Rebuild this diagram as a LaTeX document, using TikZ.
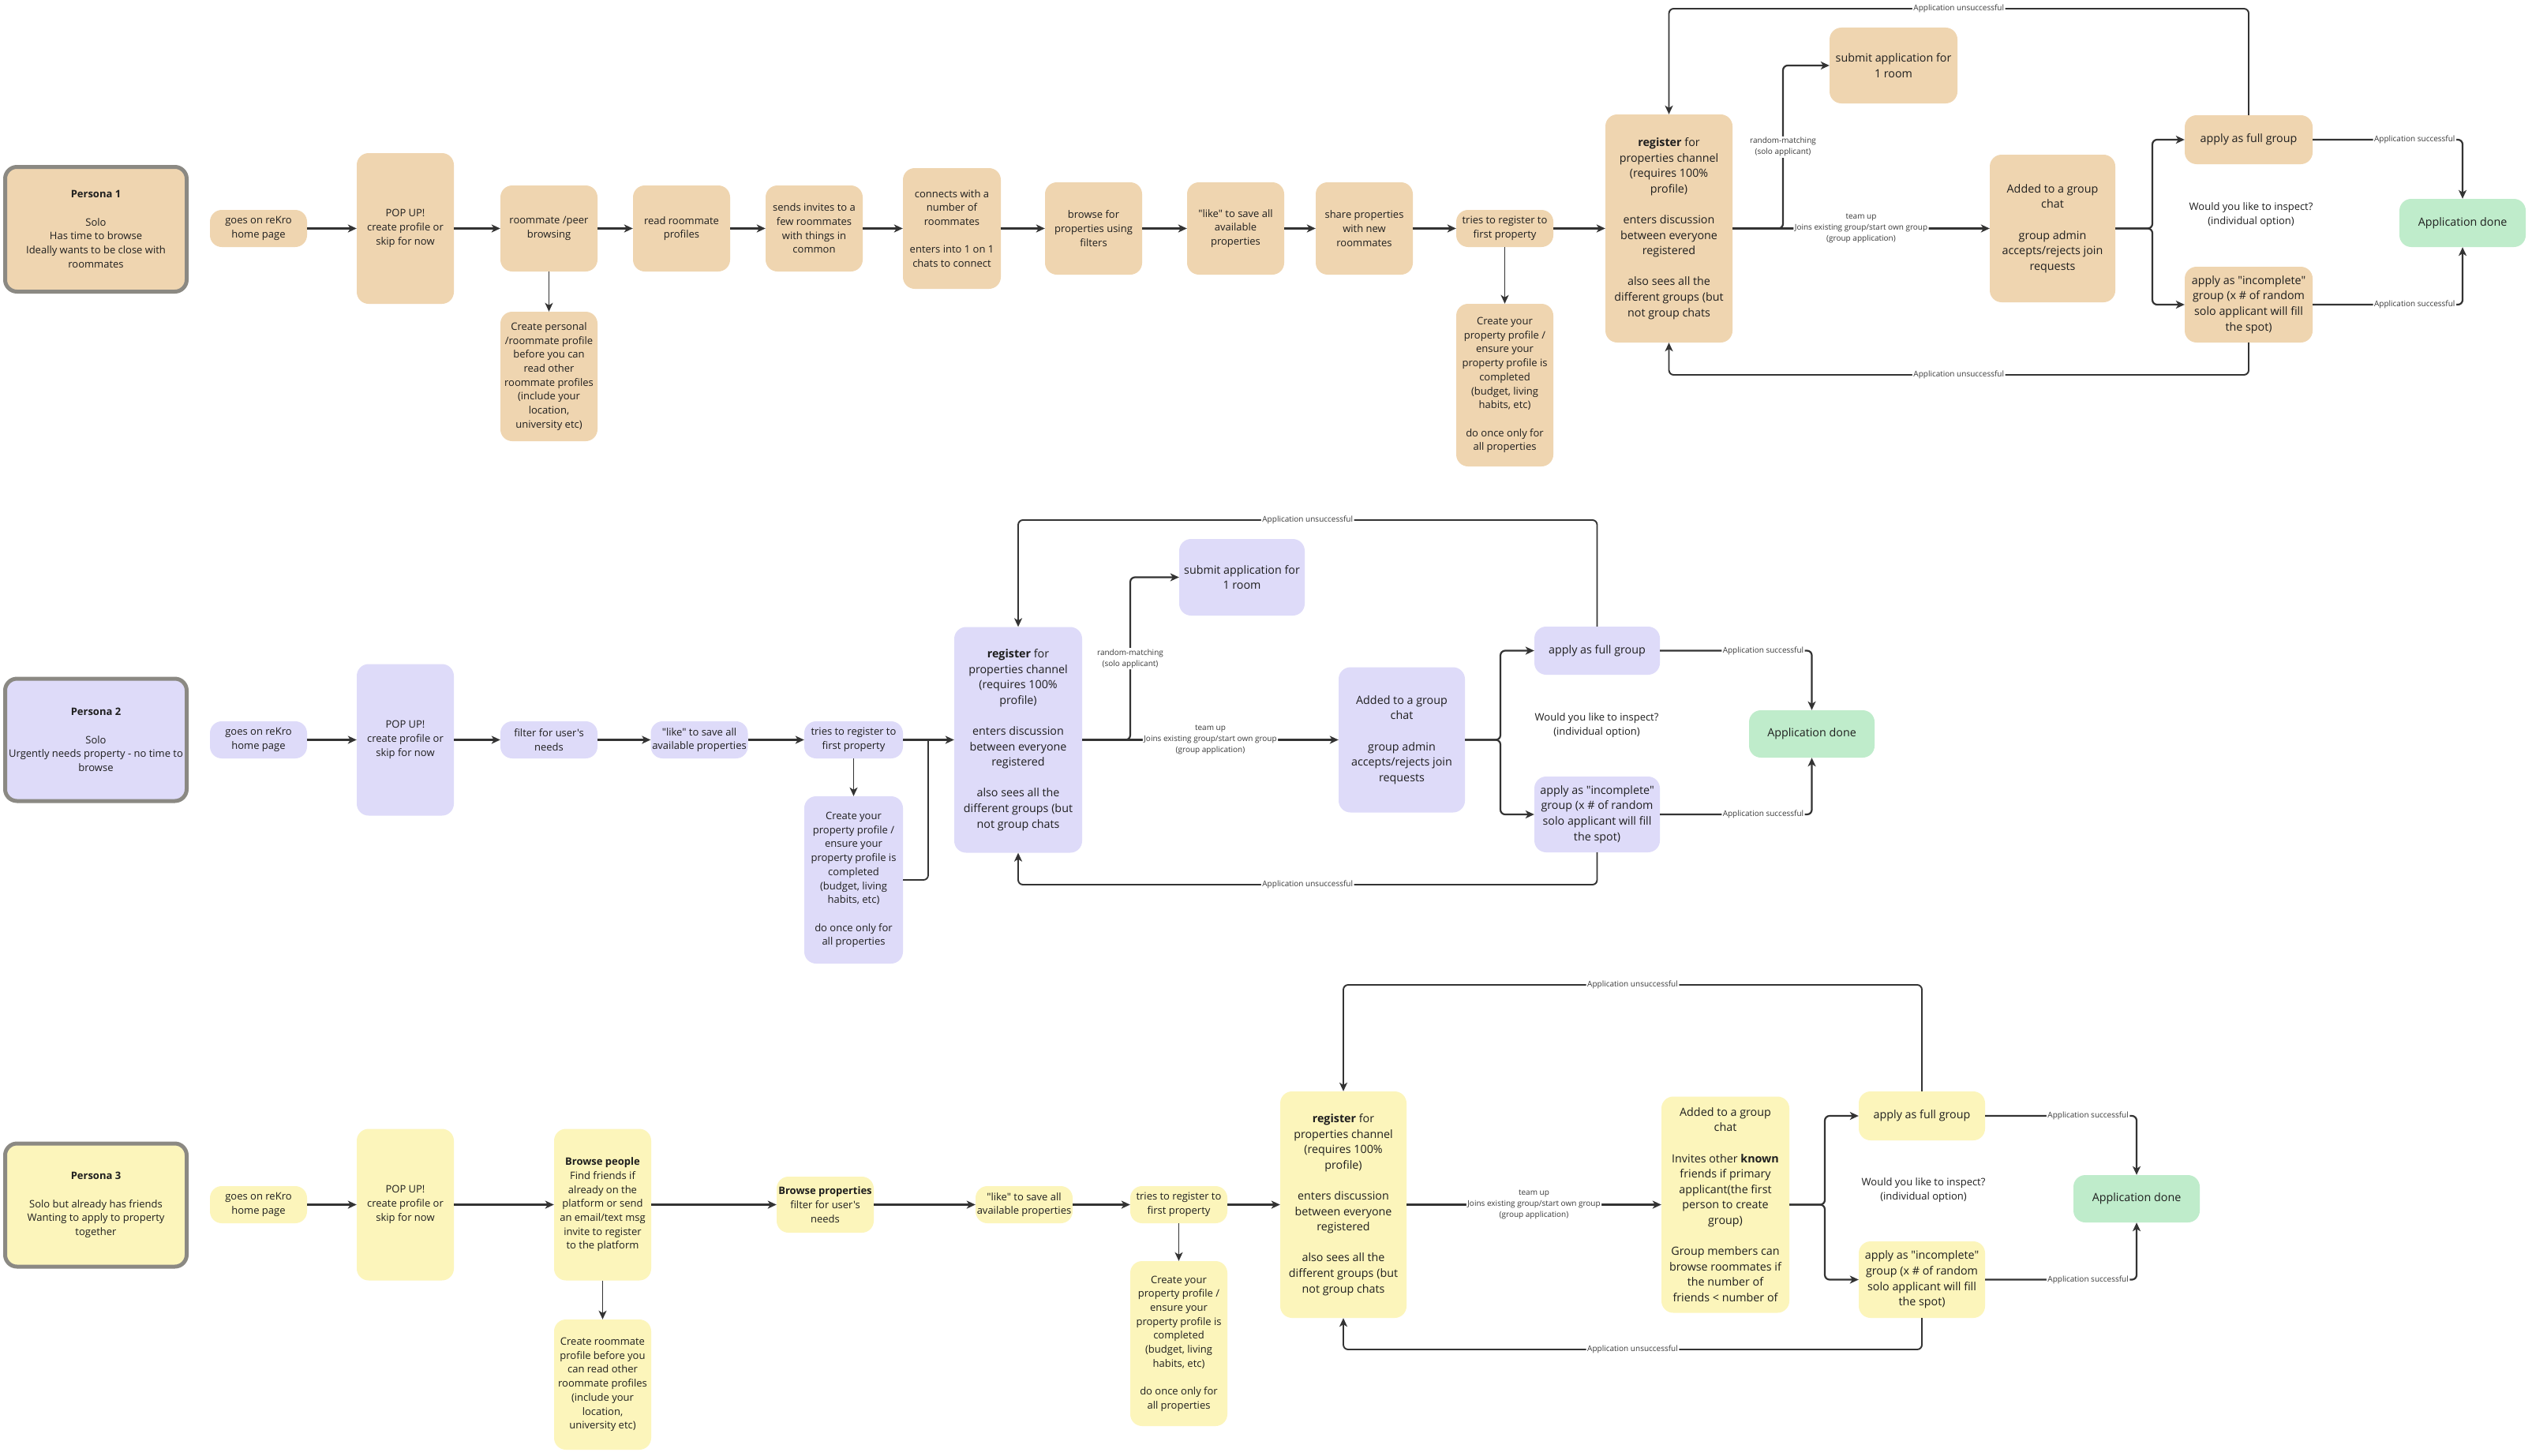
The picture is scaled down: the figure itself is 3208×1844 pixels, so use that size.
\documentclass[tikz,border=0pt]{standalone}
\usepackage{fontspec}
\setmainfont{Open Sans}[Ligatures=TeXOff]
\usetikzlibrary{arrows.meta}
\definecolor{cA}{HTML}{EFD5B0}
\definecolor{cB}{HTML}{DEDBF9}
\definecolor{cC}{HTML}{FCF5BB}
\definecolor{cD}{HTML}{BFECCB}
\definecolor{pbord}{HTML}{8B8983}
\definecolor{lnc}{HTML}{333333}
\definecolor{txt}{HTML}{1E1E1E}
\definecolor{lbltxt}{HTML}{3A3A3A}
\newcommand\dq{\symbol{34}}
\newcommand\ap{\symbol{39}}
\tikzset{
  box/.style={rounded corners=15pt, align=center, inner sep=0pt, text=txt,
    font=\fontsize{13}{17.7}\selectfont},
  big/.style={font=\fontsize{14.3}{19.6}\selectfont},
  rA/.style={box, fill=cA},
  rB/.style={box, fill=cB},
  rC/.style={box, fill=cC},
  done/.style={box, big, fill=cD},
  persona/.style={box, draw=pbord, line width=5pt, rounded corners=15pt},
  conn/.style={draw=lnc, line width=2.2pt, rounded corners=6pt,
    -{Stealth[length=11pt,width=10pt,inset=3pt]}},
  thinc/.style={conn, line width=1.6pt},
  plain/.style={draw=lnc, line width=1.8pt, rounded corners=6pt},
  loopc/.style={conn, line width=1.9pt},
  lbl/.style={fill=white, inner sep=1.5pt, text=lbltxt, align=center,
    font=\fontsize{10}{14}\selectfont},
  wyl/.style={align=center, text=txt, font=\fontsize{13}{18}\selectfont},
}
\begin{document}
\begin{tikzpicture}[x=1pt,y=-1pt]
\fill[white] (0,0) rectangle (3208,1844);
\useasboundingbox (0,0) rectangle (3208,1844);

% ================= ROW 1 =================
\node[persona, fill=cA, minimum width=230pt, minimum height=158pt] (P1) at (121.5,290.5)
  {\textbf{Persona 1}\\[17.7pt]Solo\\Has time to browse\\Ideally wants to be close with\\roommates};
\node[rA, minimum width=123pt, minimum height=47pt] (g1) at (327.5,289.5) {goes on reKro\\home page};
\node[rA, minimum width=123pt, minimum height=191pt] (pop1) at (513.5,289.5) {POP UP!\\create profile or\\skip for now};
\node[rA, minimum width=123pt, minimum height=109pt] (rp1) at (695.5,289.5) {roommate /peer\\browsing};
\node[rA, minimum width=123pt, minimum height=164pt] (cp1) at (695.5,477) {Create personal\\/roommate profile\\before you can\\read other\\roommate profiles\\(include your\\location,\\university etc)};
\node[rA, minimum width=123pt, minimum height=109pt] (rr1) at (863.5,289.5) {read roommate\\profiles};
\node[rA, minimum width=123pt, minimum height=109pt] (si1) at (1031.5,289.5) {sends invites to a\\few roommates\\with things in\\common};
\node[rA, minimum width=124pt, minimum height=153pt] (cw1) at (1206,289.5) {connects with a\\number of\\roommates\\[17.7pt]enters into 1 on 1\\chats to connect};
\node[rA, minimum width=123pt, minimum height=117pt] (bf1) at (1385.5,289.5) {browse for\\properties using\\filters};
\node[rA, minimum width=123pt, minimum height=117pt] (lk1) at (1565.5,289.5) {\dq like\dq{} to save all\\available\\properties};
\node[rA, minimum width=123pt, minimum height=117pt] (sp1) at (1728.5,289.5) {share properties\\with new\\roommates};
\node[rA, minimum width=123pt, minimum height=47pt] (tr1) at (1906.5,289.5) {tries to register to\\first property};
\node[rA, minimum width=123pt, minimum height=206pt] (pp1) at (1906.5,488) {Create your\\property profile /\\ensure your\\property profile is\\completed\\(budget, living\\habits, etc)\\[17.7pt]do once only for\\all properties};
\node[rA, big, minimum width=161pt, minimum height=289pt] (rg1) at (2114.5,289.5) {\textbf{register} for\\properties channel\\(requires 100\%\\profile)\\[19.6pt]enters discussion\\between everyone\\registered\\[19.6pt]also sees all the\\different groups (but\\not group chats};
\node[rA, big, minimum width=162pt, minimum height=96pt] (sa1) at (2399,83) {submit application for\\1 room};
\node[rA, big, minimum width=159pt, minimum height=187pt] (ad1) at (2600.5,289.5) {Added to a group\\chat\\[19.6pt]group admin\\accepts/rejects join\\requests};
\node[rA, big, minimum width=162pt, minimum height=62pt] (af1) at (2849,177) {apply as full group};
\node[rA, big, minimum width=162pt, minimum height=96pt] (ai1) at (2849,386) {apply as \dq incomplete\dq\\group (x \# of random\\solo applicant will fill\\the spot)};
\node[done, minimum width=160pt, minimum height=61pt] (dn1) at (3120,282.5) {Application done};
\node[wyl] (wy1) at (2852,272) {Would you like to inspect?\\(individual option)};

\draw[conn] (g1) -- (pop1);
\draw[conn] (pop1) -- (rp1);
\draw[conn] (rp1) -- (rr1);
\draw[conn] (rr1) -- (si1);
\draw[conn] (si1) -- (cw1);
\draw[conn] (cw1) -- (bf1);
\draw[conn] (bf1) -- (lk1);
\draw[conn] (lk1) -- (sp1);
\draw[conn] (sp1) -- (tr1);
\draw[conn] (tr1) -- (rg1);
\draw[thinc] (rp1.south) -- (cp1.north);
\draw[thinc] (tr1.south) -- (pp1.north);
\coordinate (rm1) at (2259,289.5);
\draw[conn] (rg1.east) -- (rm1) -- node[lbl]{random-matching\\(solo applicant)} (rm1 |- sa1.west) -- (sa1.west);
\draw[conn] (rg1.east) -- node[lbl]{team up\\Joins existing group/start own group\\(group application)} (ad1.west);
\coordinate (br1) at (2727,289.5);
\draw[conn] (ad1.east) -- (br1) |- (af1.west);
\draw[conn] (ad1.east) -- (br1) |- (ai1.west);
\draw[conn] (af1.east) -| node[lbl,pos=0.34]{Application successful} (dn1.north);
\draw[conn] (ai1.east) -| node[lbl,pos=0.34]{Application successful} (dn1.south);
\coordinate (t1) at (0,11);
\coordinate (b1) at (0,475);
\draw[loopc] (af1.north) -- (af1.north |- t1) -- node[lbl]{Application unsuccessful} (rg1.north |- t1) -- (rg1.north);
\draw[loopc] (ai1.south) -- (ai1.south |- b1) -- node[lbl]{Application unsuccessful} (rg1.south |- b1) -- (rg1.south);

% ================= ROW 2 =================
\node[persona, fill=cB, minimum width=230pt, minimum height=155pt] (P2) at (121.5,937.5)
  {\textbf{Persona 2}\\[17.7pt]Solo\\Urgently needs property - no time to\\browse};
\node[rB, minimum width=123pt, minimum height=47pt] (g2) at (327.5,937.5) {goes on reKro\\home page};
\node[rB, minimum width=123pt, minimum height=192pt] (pop2) at (513.5,937.5) {POP UP!\\create profile or\\skip for now};
\node[rB, minimum width=123pt, minimum height=47pt] (fu2) at (695.5,937.5) {filter for user\ap s\\needs};
\node[rB, minimum width=123pt, minimum height=47pt] (lk2) at (886,937.5) {\dq like\dq{} to save all\\available properties};
\node[rB, minimum width=125pt, minimum height=47pt] (tr2) at (1081.5,937.5) {tries to register to\\first property};
\node[rB, minimum width=125pt, minimum height=212pt] (pp2) at (1081.5,1115) {Create your\\property profile /\\ensure your\\property profile is\\completed\\(budget, living\\habits, etc)\\[17.7pt]do once only for\\all properties};
\node[rB, big, minimum width=162pt, minimum height=286pt] (rg2) at (1290,937.5) {\textbf{register} for\\properties channel\\(requires 100\%\\profile)\\[19.6pt]enters discussion\\between everyone\\registered\\[19.6pt]also sees all the\\different groups (but\\not group chats};
\node[rB, big, minimum width=159pt, minimum height=97pt] (sa2) at (1573.5,731.5) {submit application for\\1 room};
\node[rB, big, minimum width=160pt, minimum height=184pt] (ad2) at (1776,937.5) {Added to a group\\chat\\[19.6pt]group admin\\accepts/rejects join\\requests};
\node[rB, big, minimum width=159pt, minimum height=61pt] (af2) at (2023.5,824.5) {apply as full group};
\node[rB, big, minimum width=159pt, minimum height=96pt] (ai2) at (2023.5,1032) {apply as \dq incomplete\dq\\group (x \# of random\\solo applicant will fill\\the spot)};
\node[done, minimum width=159pt, minimum height=60pt] (dn2) at (2295.5,930) {Application done};
\node[wyl] (wy2) at (2023,919) {Would you like to inspect?\\(individual option)};

\draw[conn] (g2) -- (pop2);
\draw[conn] (pop2) -- (fu2);
\draw[conn] (fu2) -- (lk2);
\draw[conn] (lk2) -- (tr2);
\draw[conn] (tr2) -- (rg2);
\draw[thinc] (tr2.south) -- (pp2.north);
\coordinate (j2) at (1176,937.5);
\draw[plain] (pp2.east) -| (j2);
\coordinate (rm2) at (1432,937.5);
\draw[conn] (rg2.east) -- (rm2) -- node[lbl]{random-matching\\(solo applicant)} (rm2 |- sa2.west) -- (sa2.west);
\draw[conn] (rg2.east) -- node[lbl]{team up\\Joins existing group/start own group\\(group application)} (ad2.west);
\coordinate (br2) at (1901,937.5);
\draw[conn] (ad2.east) -- (br2) |- (af2.west);
\draw[conn] (ad2.east) -- (br2) |- (ai2.west);
\draw[conn] (af2.east) -| node[lbl,pos=0.34]{Application successful} (dn2.north);
\draw[conn] (ai2.east) -| node[lbl,pos=0.34]{Application successful} (dn2.south);
\coordinate (t2) at (0,659);
\coordinate (b2) at (0,1121);
\draw[loopc] (af2.north) -- (af2.north |- t2) -- node[lbl]{Application unsuccessful} (rg2.north |- t2) -- (rg2.north);
\draw[loopc] (ai2.south) -- (ai2.south |- b2) -- node[lbl]{Application unsuccessful} (rg2.south |- b2) -- (rg2.south);

% ================= ROW 3 =================
\node[persona, fill=cC, minimum width=230pt, minimum height=156pt] (P3) at (121.5,1527)
  {\textbf{Persona 3}\\[17.7pt]Solo but already has friends\\Wanting to apply to property\\together};
\node[rC, minimum width=123pt, minimum height=47pt] (g3) at (327.5,1526.5) {goes on reKro\\home page};
\node[rC, minimum width=123pt, minimum height=192pt] (pop3) at (513.5,1526.5) {POP UP!\\create profile or\\skip for now};
\node[rC, minimum width=123pt, minimum height=192pt] (bp3) at (763.5,1526.5) {\textbf{Browse people}\\Find friends if\\already on the\\platform or send\\an email/text msg\\invite to register\\to the platform};
\node[rC, minimum width=123pt, minimum height=165pt] (cr3) at (763.5,1754.5) {Create roommate\\profile before you\\can read other\\roommate profiles\\(include your\\location,\\university etc)};
\node[rC, minimum width=123pt, minimum height=71pt] (bq3) at (1045.5,1526.5) {\textbf{Browse properties}\\filter for user\ap s\\needs};
\node[rC, minimum width=123pt, minimum height=47pt] (lk3) at (1297.5,1526.5) {\dq like\dq{} to save all\\available properties};
\node[rC, minimum width=123pt, minimum height=47pt] (tr3) at (1493.5,1526.5) {tries to register to\\first property};
\node[rC, minimum width=123pt, minimum height=209pt] (pp3) at (1493.5,1702.5) {Create your\\property profile /\\ensure your\\property profile is\\completed\\(budget, living\\habits, etc)\\[17.7pt]do once only for\\all properties};
\node[rC, big, minimum width=160pt, minimum height=287pt] (rg3) at (1702,1526.5) {\textbf{register} for\\properties channel\\(requires 100\%\\profile)\\[19.6pt]enters discussion\\between everyone\\registered\\[19.6pt]also sees all the\\different groups (but\\not group chats};
\node[rC, big, minimum width=162pt, minimum height=274pt] (ad3) at (2186,1526.5) {Added to a group\\chat\\[19.6pt]Invites other \textbf{known}\\friends if primary\\applicant(the first\\person to create\\group)\\[19.6pt]Group members can\\browse roommates if\\the number of\\friends < number of};
\node[rC, big, minimum width=160pt, minimum height=62pt] (af3) at (2435,1414) {apply as full group};
\node[rC, big, minimum width=160pt, minimum height=97pt] (ai3) at (2435,1621.5) {apply as \dq incomplete\dq\\group (x \# of random\\solo applicant will fill\\the spot)};
\node[done, minimum width=160pt, minimum height=60pt] (dn3) at (2707,1519) {Application done};
\node[wyl] (wy3) at (2437,1508) {Would you like to inspect?\\(individual option)};

\draw[conn] (g3) -- (pop3);
\draw[conn] (pop3) -- (bp3);
\draw[conn] (bp3) -- (bq3);
\draw[conn] (bq3) -- (lk3);
\draw[conn] (lk3) -- (tr3);
\draw[conn] (tr3) -- (rg3);
\draw[thinc] (bp3.south) -- (cr3.north);
\draw[thinc] (tr3.south) -- (pp3.north);
\draw[conn] (rg3.east) -- node[lbl]{team up\\Joins existing group/start own group\\(group application)} (ad3.west);
\coordinate (br3) at (2312,1526.5);
\draw[conn] (ad3.east) -- (br3) |- (af3.west);
\draw[conn] (ad3.east) -- (br3) |- (ai3.west);
\draw[conn] (af3.east) -| node[lbl,pos=0.34]{Application successful} (dn3.north);
\draw[conn] (ai3.east) -| node[lbl,pos=0.34]{Application successful} (dn3.south);
\coordinate (t3) at (0,1248);
\coordinate (b3) at (0,1710);
\draw[loopc] (af3.north) -- (af3.north |- t3) -- node[lbl]{Application unsuccessful} (rg3.north |- t3) -- (rg3.north);
\draw[loopc] (ai3.south) -- (ai3.south |- b3) -- node[lbl]{Application unsuccessful} (rg3.south |- b3) -- (rg3.south);
\end{tikzpicture}
\end{document}
